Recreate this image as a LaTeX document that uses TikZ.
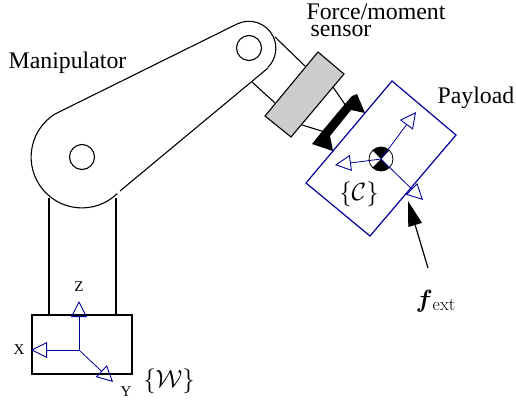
\documentclass[tikz,border=0pt]{standalone}
\usepackage{amsmath,amssymb}
\usepackage{fontspec}
\setmainfont{Liberation Serif}
\setmathrm{Latin Modern Roman}
\newfontfamily\lmfont{Latin Modern Roman}
\usepackage{tikz}
\usetikzlibrary{calc,arrows.meta,positioning}
\definecolor{framecol}{rgb}{0.0,0.0,0.6}
\tikzset{
	link/.style={line width=1.1pt, black},
	payload/.style={line width=1.2pt, framecol},
	axis/.style={line width=0.8pt, framecol, -{Triangle[open,length=16pt,width=16pt,line width=0.9pt]}},
	label/.style={inner sep=0pt, text=black, font=\fontsize{23.8}{24}\selectfont},
	mathlabel/.style={inner sep=0pt, text=black, font=\fontsize{24}{24}\selectfont},
	axislabel/.style={inner sep=0pt, text=black, font=\fontsize{15}{15}\selectfont},
	hinge/.style={draw, circle, line width=1.1pt, minimum size=25pt, inner sep=0pt}
}
\begin{document}
\begin{tikzpicture}[x=1pt,y=-1pt]
	\useasboundingbox (0,0) rectangle (516,405);
	% arm
	\node[hinge] (J1) at (82,157) {};
	\node[hinge] (J2) at (249,48) {};
	\coordinate (UpA) at (55,114);
	\coordinate (UpB) at (237,24);
	\coordinate (LowA) at (120,191);
	\coordinate (LowB) at (268,68);
	\draw[link] (UpA) -- (UpB) arc[start angle=-116, end angle=45, radius=27];
	\draw[link] (LowA) -- (LowB);
	\draw[link] (UpA) arc[start angle=238, end angle=46, radius=50.8];
	% base
	\node[link, draw, minimum width=100pt, minimum height=59pt, inner sep=0pt] (Base) at (82,344.5) {};
	\coordinate (ColL) at (49,198);
	\coordinate (ColR) at (116,198);
	\draw[link] (ColL) -- (Base.north -| ColL);
	\draw[link] (ColR) -- (Base.north -| ColR);
	% sensor
	\draw[link] (275,37) coordinate (BrA) -- (305,66) coordinate (BrB);
	\draw[link] (252,82) coordinate (BrC) -- (275,103) coordinate (BrD);
	\draw[link, fill=black!20] (318,52) -- (344,74) -- (291,137) -- (265,116) -- cycle;
	\draw[link] (333,87) -- (346,106);
	\draw[link] (302,125) -- (325,132);
	% flange
	\fill[black] (352,96) -- (357,94) -- (365,113) -- (351,110) -- (330,136) -- (333,151) -- (312,144) -- (320,134) -- (324,129) -- (345,104) -- cycle;
	% payload
	\draw[payload] (392,81) coordinate (PayA) -- (456,135) coordinate (PayB) -- (370,236) coordinate (PayC) -- (306,183) coordinate (PayD) -- cycle;
	% centre of mass
	\coordinate (Com) at (381,159);
	\fill[black] (Com) -- ++(-8.5,-8.5) arc[start angle=225, end angle=315, radius=12] -- cycle;
	\fill[black] (Com) -- ++(-8.5,8.5) arc[start angle=135, end angle=45, radius=12] -- cycle;
	\node[draw, circle, line width=0.8pt, minimum size=24pt, inner sep=0pt] (ComC) at (Com) {};
	\coordinate (CxTip) at (416,112);
	\coordinate (CyTip) at (335,165);
	\coordinate (CzTip) at (423,200);
	\draw[axis] (Com) -- (CxTip);
	\draw[axis] (Com) -- (CyTip);
	\draw[axis] (Com) -- (CzTip);
	% force
	\coordinate (FStart) at (428,268);
	\coordinate (FTip) at (408,201);
	\draw[line width=1.2pt, -{Triangle[length=25pt,width=14pt]}] (FStart) -- (FTip);
	% world frame
	\coordinate (Wo) at (79,350);
	\coordinate (WxTip) at (31,350);
	\coordinate (WyTip) at (113,382);
	\coordinate (WzTip) at (79,301);
	\draw[axis] (Wo) -- (WxTip);
	\draw[axis] (Wo) -- (WyTip);
	\draw[axis] (Wo) -- (WzTip);
	% labels
	\node[label] (ManLbl) at (67.5,63) {Manipulator};
	\node[label] (ForceLbl) at (376,12) {Force/moment};
	\node[label] (SensorLbl) at (341,31) {sensor};
	\node[label] (PayLbl) at (476,98) {Payload};
	\node[mathlabel] (CLbl) at (359,194) {$\{\mathcal{C}\}$};
	\node[mathlabel] (WLbl) at (169,381) {$\{\mathcal{W}\}$};
	\node[mathlabel] (FLbl) at (435.5,301) {$\boldsymbol{f}$\raisebox{-3pt}{\lmfont\fontsize{18}{18}\selectfont ext}};
	\node[axislabel] (XLbl) at (19,350) {X};
	\node[axislabel] (YLbl) at (126,392) {Y};
	\node[axislabel] (ZLbl) at (79,287) {Z};
\end{tikzpicture}
\end{document}
